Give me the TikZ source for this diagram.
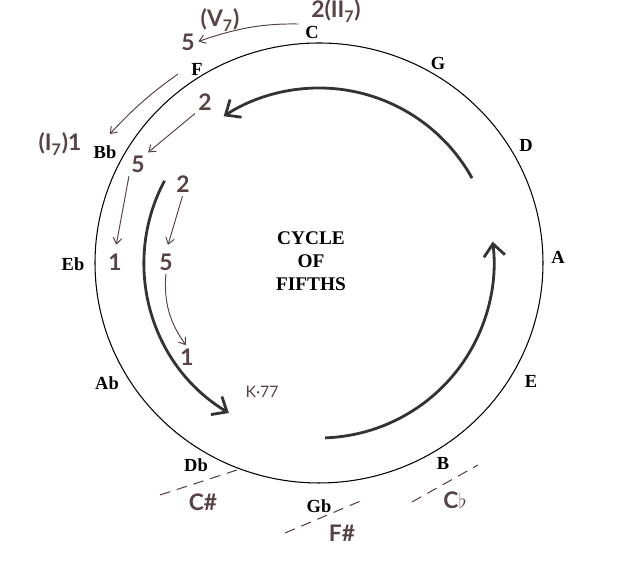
\documentclass[tikz,border=0pt]{standalone}
\usepackage{fontspec}
\setmainfont{Liberation Serif}
\newfontfamily\hand{Lato}
\usetikzlibrary{arrows.meta}
\definecolor{ink}{RGB}{88,66,70}

\begin{document}
\begin{tikzpicture}[
  x=0.02cm, y=0.02cm,
  key/.style={font=\fontsize{10.5}{12}\selectfont\bfseries},
  pen/.style={font=\hand\bfseries\fontsize{13}{14}\selectfont,text=ink,inner sep=1pt},
  thin/.style={ink,line width=0.55pt,-{Straight Barb[length=3.5pt,width=5pt]},shorten >=1pt,shorten <=1pt},
  cyc/.style={black!80,line width=1.6pt,-{Straight Barb[length=7pt,width=12pt]}},
  enh/.style={ink,line width=0.6pt,dash pattern=on 6pt off 4pt}
]
  \useasboundingbox (0,0) rectangle (620,563);
  \coordinate (O) at (319,300);
  \draw[line width=0.6pt] (O) ellipse [x radius=224,y radius=220];

  % the twelve keys
  \foreach \k/\x/\y in {C/312/531,G/438/500,D/526/418,A/558/306,E/531/182,B/443/99,
                        Gb/319/57,Db/196/98,Ab/107/180,Eb/73/299,Bb/105/411,F/197/494}
    \node[key] (\k) at (\x,\y) {\k};

  \node[font=\fontsize{11}{13}\selectfont\bfseries,align=center] (title) at (311,302) {CYCLE\\OF\\FIFTHS};

  % direction arrows
  \draw[cyc] ([shift={(29:175)}]O) arc[start angle=29,end angle=123,radius=175];
  \draw[cyc] ([shift={(152:175)}]O) arc[start angle=152,end angle=239,radius=175];
  \draw[cyc] ([shift={(-88:175)}]O) arc[start angle=-88,end angle=7,radius=175];

  % 2-5-1 notes
  \node[pen] (twoC) at (336,552) {2(II\textsubscript{7})};
  \node[pen] (fiveF) at (188,521) {5};
  \node[pen] (vF) at (220,543) {(V\textsubscript{7})};
  \node[pen] (oneBb) at (60,419) {(I\textsubscript{7})1};
  \node[pen] (two1) at (205,461) {2};
  \node[pen] (five1) at (138,399) {5};
  \node[pen] (one1) at (115,301) {1};
  \node[pen] (two2) at (183,379) {2};
  \node[pen] (five2) at (166,301) {5};
  \node[pen] (one2) at (187,206) {1};
  \node[pen,font=\hand\fontsize{9}{10}\selectfont] (k77) at (262,171) {K·77};

  \draw[thin,shorten <=6pt] (twoC.south west) to[bend right=10] (fiveF.east);
  \draw[thin,shorten <=5pt,shorten >=4pt] (F.west) to[bend right=6] (Bb.north);
  \draw[thin] (two1.south west) -- (five1.north east);
  \draw[thin,shorten >=4pt] (five1.south west) -- (one1.north);
  \draw[thin,shorten >=4pt] (two2.south) -- (five2.north);
  \draw[thin] (five2.south) to[bend right=20] (one2.north);

  % enharmonic spellings
  \coordinate (cs1) at (160,68);  \coordinate (cs2) at (237,93);
  \coordinate (fs1) at (285,30);  \coordinate (fs2) at (363,63);
  \coordinate (cb1) at (412,61);  \coordinate (cb2) at (478,98);
  \draw[enh] (cs1) -- (cs2);
  \draw[enh] (fs1) -- (fs2);
  \draw[enh] (cb1) -- (cb2);
  \node[pen] (csharp) at (203,61) {C\#};
  \node[pen] (fsharp) at (342,30) {F\#};
  \node[pen] (cflat) at (455,63) {C$\flat$};
\end{tikzpicture}
\end{document}
